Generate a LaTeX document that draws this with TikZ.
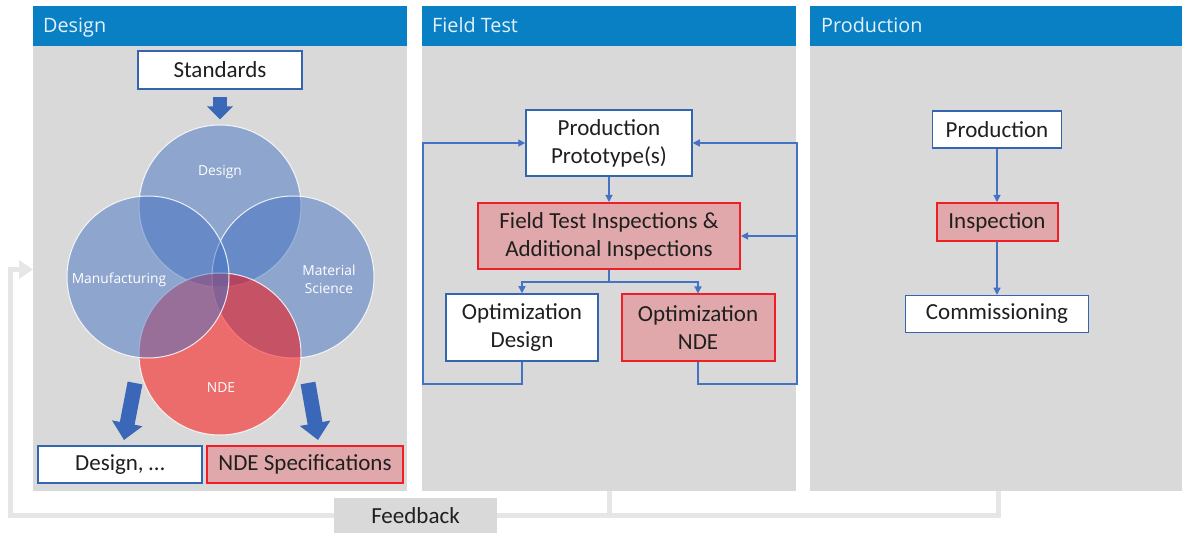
\documentclass[tikz,border=0pt]{standalone}
\usepackage{fontspec}
\setmainfont{Carlito}
\newfontfamily\hfont{Open Sans}
\usetikzlibrary{arrows.meta}
\definecolor{hdrblue}{HTML}{0A80C4}
\definecolor{panelgray}{HTML}{D9D9D9}
\definecolor{hdrtext}{HTML}{E4F1FA}
\definecolor{bxblue}{HTML}{3465AE}
\definecolor{bxred}{HTML}{EE1F27}
\definecolor{redfill}{HTML}{E0A8AA}
\definecolor{connblue}{HTML}{4472C4}
\definecolor{vblue}{HTML}{4472C4}
\definecolor{vred}{HTML}{FF0000}
\definecolor{bigarrow}{HTML}{3A67B8}
\definecolor{fbgray}{HTML}{E6E6E6}
\definecolor{txt}{HTML}{1F1F1F}
\begin{document}
\begin{tikzpicture}[x=1bp,y=-1bp,
  panelbody/.style={draw=none, fill=panelgray, inner sep=0, minimum height=485bp},
  panelhead/.style={draw=none, fill=hdrblue, inner sep=0, minimum height=40bp},
  htext/.style={text=hdrtext, inner sep=0, font=\hfont\fontsize{19.8bp}{24bp}\selectfont},
  box/.style={draw=bxblue, line width=1.5bp, fill=white, inner sep=0, align=center, text=txt,
              font=\fontsize{23bp}{28bp}\selectfont},
  redbox/.style={box, draw=bxred, line width=2bp, fill=redfill},
  vcirc/.style={circle, minimum size=162bp, inner sep=0, draw=white, draw opacity=0.85,
                line width=1bp, fill opacity=0.5},
  vlab/.style={text=white, inner sep=0, align=center, font=\hfont\fontsize{13.8bp}{18bp}\selectfont},
  bigarr/.style={draw=bigarrow, line width=15bp, -{Triangle[width=30bp,length=17bp]}},
  conn/.style={draw=connblue, line width=1.3bp, -{Triangle[width=7bp,length=7bp]}},
  fbline/.style={draw=fbgray, line width=5bp}
]
\useasboundingbox (0,0) rectangle (1182,533);
\fill[white] (0,0) rectangle (1182,533);

% panels
\node[panelbody, minimum width=374bp] (dp) at (220,248.5) {};
\node[panelhead, minimum width=374bp] (dh) at (220,26) {};
\node[panelbody, minimum width=374bp] (fp) at (609,248.5) {};
\node[panelhead, minimum width=374bp] (fh) at (609,26) {};
\node[panelbody, minimum width=372bp] (pp) at (996,248.5) {};
\node[panelhead, minimum width=372bp] (ph) at (996,26) {};
\node[htext, anchor=base west] (dht) at (43,33) {Design};
\node[htext, anchor=base west] (fht) at (432,33) {Field Test};
\node[htext, anchor=base west] (pht) at (821,33) {Production};

% feedback
\coordinate (fbr) at (998,515);
\coordinate (fbl) at (10,515);
\coordinate (fbm) at (609,515);
\coordinate (fbin) at (33,269.5);
\draw[fbline, -{Triangle[width=18bp,length=14bp]}] (pp.south -| fbr) |- (fbl) |- (fbin);
\draw[fbline] (fp.south -| fbm) -- (fbm);
\node[fill=panelgray, inner sep=0, minimum width=163bp, minimum height=36bp, text=txt,
      font=\fontsize{23bp}{28bp}\selectfont] (fb) at (415.5,515.5) {Feedback};

% design panel
\node[box, minimum width=164bp, minimum height=38bp] (std) at (220,70) {Standards};
\node[vcirc, fill=vblue] (vdes) at (220,206) {};
\node[vcirc, fill=vblue] (vmat) at (293,277) {};
\node[vcirc, fill=vred] (vnde) at (220,354) {};
\node[vcirc, fill=vblue] (vman) at (148,277) {};
\node[vlab] (ldes) at (220,172) {Design};
\node[vlab] (lman) at (119,280) {Manufacturing};
\node[vlab] (lmat) at (329,279) {Material\\Science};
\node[vlab] (lnde) at (221,388) {NDE};
\draw[draw=bigarrow, line width=14bp, -{Triangle[width=25bp,length=13bp]}, shorten <=7bp, shorten >=5bp] (std) -- (vdes);
\node[box, minimum width=164bp, minimum height=37bp] (des) at (120,464.5) {Design, \dots};
\node[redbox, minimum width=196bp, minimum height=37bp] (ndes) at (305,464.5) {NDE Specifications};
\coordinate (la1) at (135,383);
\coordinate (la2) at (124,440);
\coordinate (ra1) at (308,383);
\coordinate (ra2) at (318,440);
\draw[bigarr] (la1) -- (la2);
\draw[bigarr] (ra1) -- (ra2);

% field test panel
\node[box, minimum width=166bp, minimum height=66bp] (proto) at (609,143) {Production\\Prototype(s)};
\node[redbox, minimum width=262bp, minimum height=66bp] (fti) at (609,236) {Field Test Inspections \&\\Additional Inspections};
\node[box, minimum width=152bp, minimum height=67bp] (optd) at (522,327.5) {Optimization\\Design};
\node[redbox, minimum width=153bp, minimum height=67bp] (optn) at (698,328) {Optimization\\NDE};
\coordinate (split) at (609,282);
\coordinate (lb) at (423,384);
\coordinate (rb) at (797,384);
\draw[conn] (proto) -- (fti);
\draw[conn] (fti.south) -- (split) -| (optd.north);
\draw[conn] (split) -| (optn.north);
\draw[conn] (optd.south) |- (lb) |- (proto.west);
\draw[conn] (optn.south) |- (rb) |- (proto.east);
\draw[conn] (fti.east -| rb) -- (fti.east);

% production panel
\node[box, minimum width=129bp, minimum height=37bp] (prod) at (997,129.5) {Production};
\node[redbox, minimum width=121bp, minimum height=38bp] (insp) at (997,222) {Inspection};
\node[box, minimum width=183bp, minimum height=37bp] (comm) at (997,314) {Commissioning};
\draw[conn] (prod) -- (insp);
\draw[conn] (insp) -- (comm);
\end{tikzpicture}
\end{document}
